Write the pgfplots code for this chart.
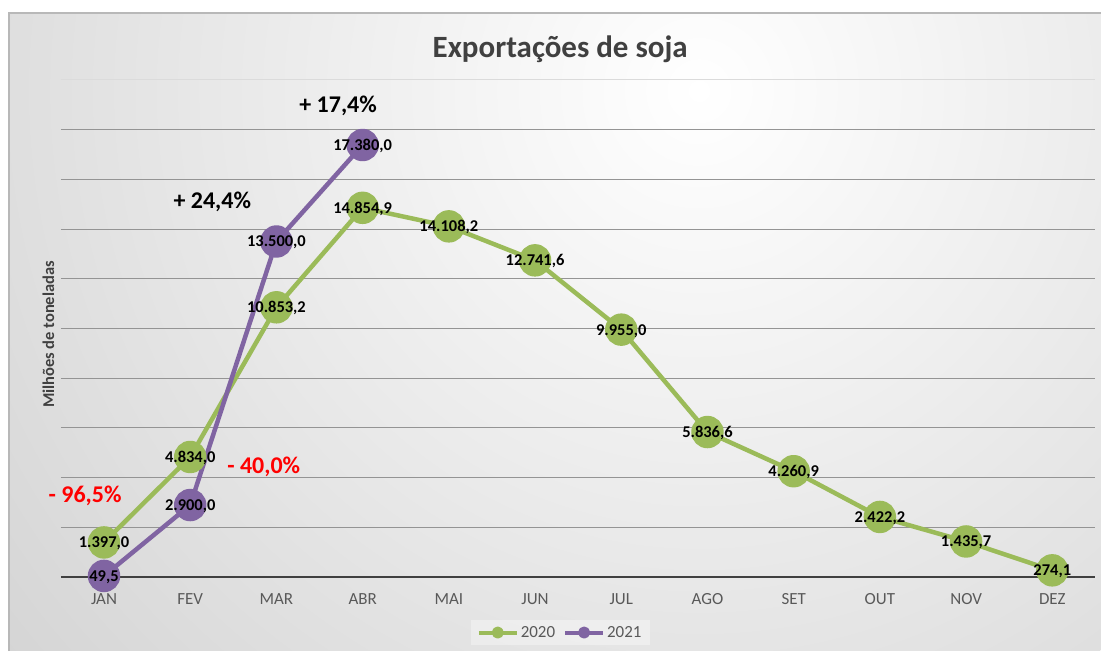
\documentclass[border=0pt]{standalone}
\usepackage{pgfplots}
\pgfplotsset{compat=1.18}
\usepackage{pgfplotstable}
\usepackage{fontspec}
\setmainfont{Carlito}
\definecolor{c20}{HTML}{9BBB59}
\definecolor{c21}{HTML}{8064A2}
\definecolor{tgray}{HTML}{595959}
\definecolor{dgray}{HTML}{404040}

\pgfplotstableread{
x y l
0 1397.0 1.397,0
1 4834.0 4.834,0
2 10853.2 10.853,2
3 14854.9 14.854,9
4 14108.2 14.108,2
5 12741.6 12.741,6
6 9955.0 9.955,0
7 5836.6 5.836,6
8 4260.9 4.260,9
9 2422.2 2.422,2
10 1435.7 1.435,7
11 274.1 274,1
}\tA
\pgfplotstableread{
x y l
0 49.5 49,5
1 2900.0 2.900,0
2 13500.0 13.500,0
3 17380.0 17.380,0
}\tB

\begin{document}
\begin{tikzpicture}
% background
\fill[white] (0pt,0pt) rectangle (1102pt,651pt);
\begin{scope}
\clip (9pt,0pt) rectangle (1102pt,638pt);
\fill[black!23] (9pt,0pt) rectangle (1102pt,638pt);
\shade[inner color=white, outer color=black!23] (700pt,560pt) circle (1250pt);
\end{scope}
\draw[black!28, line width=1.2pt] (9pt,-1pt) -- (9pt,638pt) -- (1103pt,638pt);

\begin{axis}[
  at={(61pt,73pt)}, anchor=south west,
  scale only axis, width=1036pt, height=498pt,
  xmin=-0.5, xmax=11.5, ymin=0, ymax=20000,
  clip=false,
  axis x line*=bottom, axis y line*=left,
  x axis line style={dgray, line width=2pt, -},
  y axis line style={draw=none},
  xtick={0,...,11},
  xticklabels={JAN,FEV,MAR,ABR,MAI,JUN,JUL,AGO,SET,OUT,NOV,DEZ},
  major tick length=0pt,
  xticklabel style={font=\fontsize{17}{20}\selectfont, text=tgray, yshift=-13pt},
  ytick={2000,4000,...,18000},
  scaled y ticks=false,
  yticklabel style={opacity=0, text opacity=0},
  ymajorgrids,
  grid style={black!42, line width=1pt},
  legend style={at={(0.4826,-0.1114)}, anchor=center, legend columns=2,
    draw=none, fill=white, fill opacity=0.35, text opacity=1,
    font=\fontsize{17}{20}\selectfont, text=tgray, inner ysep=4pt, inner xsep=6pt,
    /tikz/every even column/.append style={column sep=6pt}},
  legend image code/.code={\draw[mark repeat=2,mark phase=2,#1,mark size=4pt,line width=4pt] plot coordinates {(0pt,0pt) (19pt,0pt) (38pt,0pt)};},
]
\draw[black!14, line width=1pt] (axis cs:-0.5,20000) -- (axis cs:11.5,20000);

\addplot[color=c20, line width=4.5pt, line join=round, mark=*, mark size=14pt, mark options={solid, fill=c20, draw=none}] table[x=x,y=y]{\tA};
\addlegendentry{2020}
\addplot[color=c21, line width=4.5pt, line join=round, mark=*, mark size=14pt, mark options={solid, fill=c21, draw=none}] table[x=x,y=y]{\tB};
\addlegendentry{2021}

\addplot[draw=none, mark=none, forget plot, nodes near coords, point meta=explicit symbolic,
  nodes near coords style={anchor=base, yshift=-5.5pt, inner sep=0pt, font=\bfseries\fontsize{16.5}{19}\selectfont, text=black}]
  table[x=x,y=y,meta=l]{\tA};
\addplot[draw=none, mark=none, forget plot, nodes near coords, point meta=explicit symbolic,
  nodes near coords style={anchor=base, yshift=-5.5pt, inner sep=0pt, font=\bfseries\fontsize{16.5}{19}\selectfont, text=black}]
  table[x=x,y=y,meta=l]{\tB};

\node[anchor=base, font=\bfseries\fontsize{24}{28}\selectfont, text=black] at (axis cs:2.715,18707) {+ 17,4\%};
\node[anchor=base, font=\bfseries\fontsize{24}{28}\selectfont, text=black] at (axis cs:1.256,14813) {+ 24,4\%};
\node[anchor=base, font=\bfseries\fontsize{24}{28}\selectfont, text=red] at (axis cs:-0.22,3011) {- 96,5\%};
\node[anchor=base, font=\bfseries\fontsize{24}{28}\selectfont, text=red] at (axis cs:1.853,4175) {- 40,0\%};
\end{axis}

\node[anchor=base, font=\bfseries\fontsize{31}{36}\selectfont, text=dgray] at (561pt,593pt) {Exportações de soja};
\node[rotate=90, font=\bfseries\fontsize{16.5}{19}\selectfont, text=dgray] at (48.5pt,316pt) {Milhões de toneladas};
\end{tikzpicture}
\end{document}
